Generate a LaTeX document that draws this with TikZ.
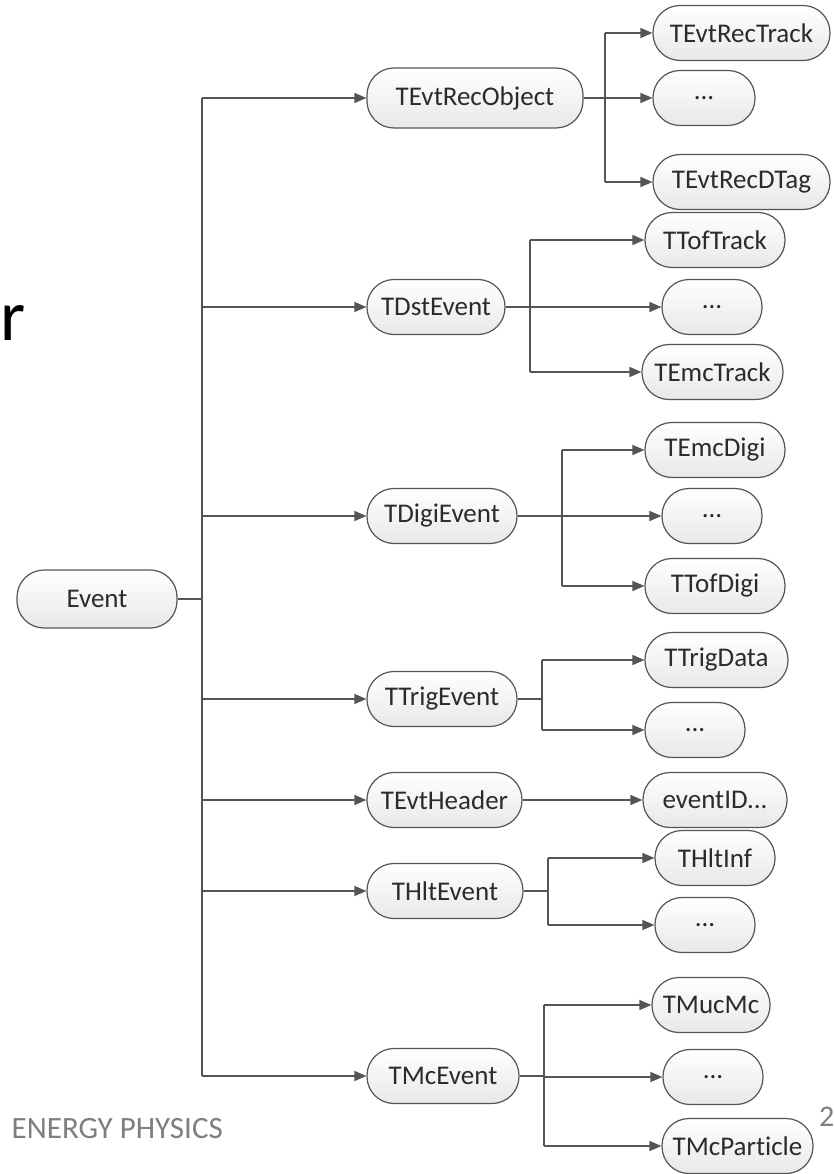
\documentclass[tikz,border=0pt]{standalone}
\usepackage{fontspec}
\setmainfont[Ligatures=NoCommon]{Carlito}
\usetikzlibrary{arrows.meta}
\definecolor{edge}{HTML}{555555}
\definecolor{ink}{HTML}{2B2B2B}
\definecolor{foot}{HTML}{7F7F7F}
\begin{document}
\begin{tikzpicture}[x=1pt,y=-1pt,
  pill/.style={draw=edge, line width=1.2pt, rounded corners=27pt,
    top color=white, bottom color=gray!18, text=ink,
    minimum height=55pt, inner sep=0pt,
    font=\fontsize{27}{31}\selectfont},
  link/.style={draw=edge, line width=1.4pt},
  arr/.style={link, -{Triangle[length=12pt,width=10pt]}}]
\useasboundingbox (0,0) rectangle (834,1174);
\fill[white] (0,0) rectangle (834,1174);

% stray text at the page edges
\node[anchor=base west, font=\fontsize{72}{80}\selectfont, inner sep=0pt] (ttl) at (0,340) {r};
\node[anchor=base east, text=foot, font=\fontsize{31}{35}\selectfont, inner sep=0pt] (ftr) at (223,1138) {ENERGY PHYSICS};
\node[anchor=base west, text=foot, font=\fontsize{30}{34}\selectfont, inner sep=0pt] (pg) at (819,1126) {2};

% root
\node[pill, minimum width=160pt, minimum height=58pt] (event) at (97,599) {Event};

% first level
\node[pill, minimum width=216pt, minimum height=60pt] (recobj) at (475,98) {TEvtRecObject};
\node[pill, minimum width=138pt] (dst)    at (436,307)  {TDstEvent};
\node[pill, minimum width=150pt] (digi)   at (442,516)  {TDigiEvent};
\node[pill, minimum width=150pt] (trig)   at (442,699)  {TTrigEvent};
\node[pill, minimum width=155pt] (header) at (444.5,800){TEvtHeader};
\node[pill, minimum width=156pt] (hlt)    at (445,891)  {THltEvent};
\node[pill, minimum width=152pt] (mc)     at (443,1076) {TMcEvent};

% second level
\node[pill, minimum width=177pt] (rectrack) at (741.5,33)  {TEvtRecTrack};
\node[pill, minimum width=102pt] (recdots)  at (704,98)    {...};
\node[pill, minimum width=177pt] (recdtag)  at (741.5,182) {TEvtRecDTag};

\node[pill, minimum width=140pt] (toftrack) at (715,240)   {TTofTrack};
\node[pill, minimum width=100pt] (dstdots)  at (712,307)   {...};
\node[pill, minimum width=141pt] (emctrack) at (712.5,372) {TEmcTrack};

\node[pill, minimum width=140pt] (emcdigi)  at (715,450)   {TEmcDigi};
\node[pill, minimum width=100pt] (digidots) at (712,516)   {...};
\node[pill, minimum width=140pt] (tofdigi)  at (715,586)   {TTofDigi};

\node[pill, minimum width=143pt] (trigdata) at (716.5,660) {TTrigData};
\node[pill, minimum width=100pt] (trigdots) at (695,730)   {...};

\node[pill, minimum width=144pt] (eventid)  at (715,800)   {eventID...};

\node[pill, minimum width=120pt] (hltinf)   at (715,858)   {THltInf};
\node[pill, minimum width=100pt] (hltdots)  at (705,925)   {...};

\node[pill, minimum width=118pt] (mucmc)    at (711,1005)  {TMucMc};
\node[pill, minimum width=100pt] (mcdots)   at (713,1077)  {...};
\node[pill, minimum width=151pt] (mcpart)   at (737.5,1146){TMcParticle};

% vertical bus positions
\coordinate (bus0) at (202,0);
\coordinate (bus1) at (605,0);
\coordinate (bus2) at (530,0);
\coordinate (bus3) at (562,0);
\coordinate (bus4) at (542,0);
\coordinate (bus6) at (548,0);
\coordinate (bus7) at (544,0);

% root to first level
\draw[link] (event.east) -- (event -| bus0);
\draw[link] (recobj -| bus0) -- (mc -| bus0);
\foreach \n in {recobj,dst,digi,trig,header,hlt,mc}
  \draw[arr] (\n -| bus0) -- (\n.west);

% first level to second level
\draw[link] (recobj.east) -- (recobj -| bus1);
\draw[link] (rectrack -| bus1) -- (recdtag -| bus1);
\foreach \n in {rectrack,recdots,recdtag} \draw[arr] (\n -| bus1) -- (\n.west);

\draw[link] (dst.east) -- (dst -| bus2);
\draw[link] (toftrack -| bus2) -- (emctrack -| bus2);
\foreach \n in {toftrack,dstdots,emctrack} \draw[arr] (\n -| bus2) -- (\n.west);

\draw[link] (digi.east) -- (digi -| bus3);
\draw[link] (emcdigi -| bus3) -- (tofdigi -| bus3);
\foreach \n in {emcdigi,digidots,tofdigi} \draw[arr] (\n -| bus3) -- (\n.west);

\draw[link] (trig.east) -- (trig -| bus4);
\draw[link] (trigdata -| bus4) -- (trigdots -| bus4);
\foreach \n in {trigdata,trigdots} \draw[arr] (\n -| bus4) -- (\n.west);

\draw[arr] (header.east) -- (eventid.west);

\draw[link] (hlt.east) -- (hlt -| bus6);
\draw[link] (hltinf -| bus6) -- (hltdots -| bus6);
\foreach \n in {hltinf,hltdots} \draw[arr] (\n -| bus6) -- (\n.west);

\draw[link] (mc.east) -- (mc -| bus7);
\draw[link] (mucmc -| bus7) -- (mcpart -| bus7);
\foreach \n in {mucmc,mcdots,mcpart} \draw[arr] (\n -| bus7) -- (\n.west);
\end{tikzpicture}
\end{document}
